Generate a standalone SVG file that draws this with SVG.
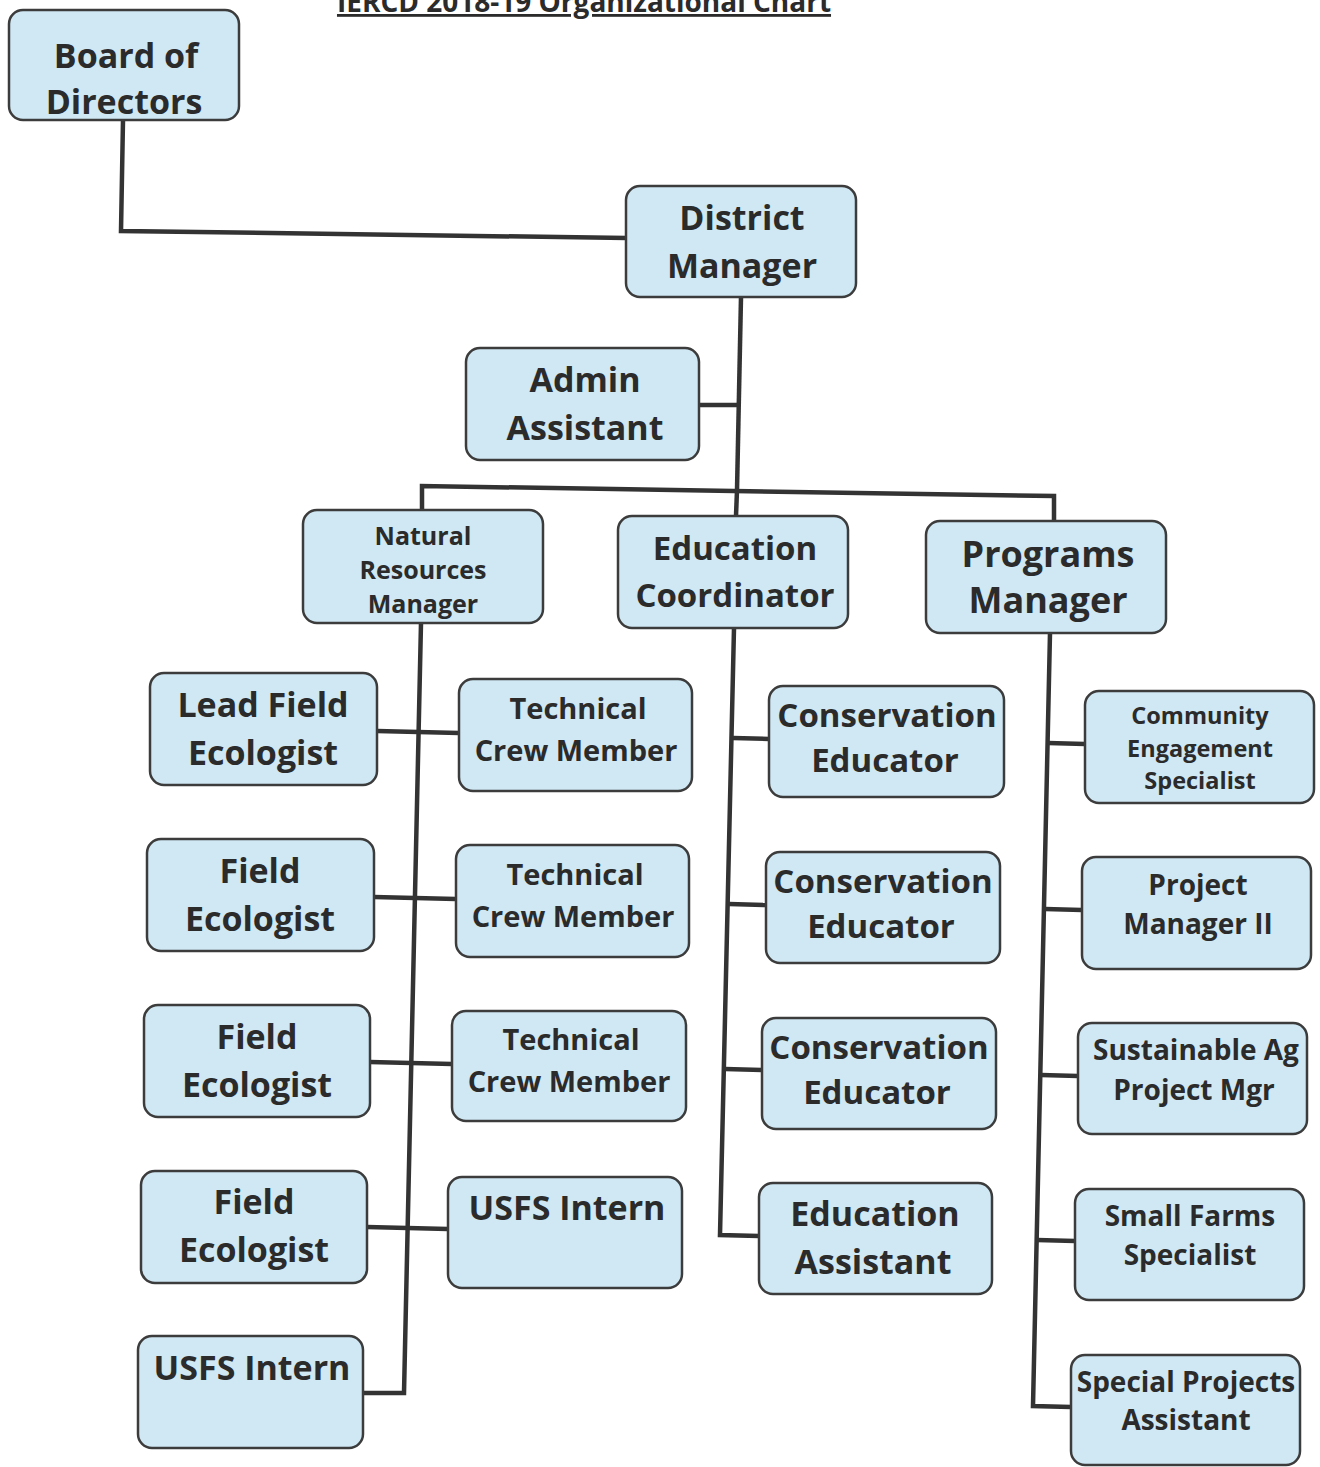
<svg xmlns="http://www.w3.org/2000/svg" width="1320" height="1467" viewBox="0 0 1320 1467">
<style>
.box{fill:#cfe8f4;stroke:#3c3c3c;stroke-width:2.5}
text{font-family:"Open Sans","Liberation Sans",sans-serif;font-weight:700;fill:#2b2b2b;text-anchor:middle}
.l{fill:none;stroke:#333;stroke-width:4.5;stroke-linejoin:miter}
.t{font-size:28px;text-decoration:underline}
.s35{font-size:34px}.s36{font-size:36px}.s33{font-size:33px}.s34{font-size:34px}.s30{font-size:29px}.s28{font-size:28px}.s24{font-size:25px}.s23{font-size:23.5px}
</style>
<rect width="1320" height="1467" fill="#ffffff"/>
<text class="t" x="584" y="12">IERCD 2018-19 Organizational Chart</text>
<g id="connectors">
<polyline class="l" points="123,120 121,231 627,238"/>
<polyline class="l" points="741,297 737,490"/>
<polyline class="l" points="699,405 739,405"/>
<polyline class="l" points="422,510 422,486 1054,496 1054,521"/>
<polyline class="l" points="737,490 736,516"/>
<polyline class="l" points="421,623 404,1393 363,1393"/>
<polyline class="l" points="377,731 459,733"/>
<polyline class="l" points="374,897 456,899"/>
<polyline class="l" points="370,1062 452,1064"/>
<polyline class="l" points="367,1227 448,1229"/>
<polyline class="l" points="734,628 720,1235 759,1236"/>
<polyline class="l" points="733,738 769,739"/>
<polyline class="l" points="729,904 766,905"/>
<polyline class="l" points="725,1069 762,1070"/>
<polyline class="l" points="1050,633 1033,1406 1071,1407"/>
<polyline class="l" points="1048,743 1085,744"/>
<polyline class="l" points="1045,909 1082,910"/>
<polyline class="l" points="1041,1075 1078,1076"/>
<polyline class="l" points="1037,1240 1075,1241"/>
</g>
<g id="board"><rect class="box" x="9" y="10" width="230" height="110" rx="14"/><text class="s35" x="126" y="68">Board of</text><text class="s35" x="124" y="114">Directors</text></g>
<g id="district-manager"><rect class="box" x="626" y="186" width="230" height="111" rx="14"/><text class="s35" x="742" y="230">District</text><text class="s35" x="742" y="278">Manager</text></g>
<g id="admin-assistant"><rect class="box" x="466" y="348" width="233" height="112" rx="14"/><text class="s35" x="585" y="392">Admin</text><text class="s35" x="585" y="440">Assistant</text></g>
<g id="nr-manager"><rect class="box" x="303" y="510" width="240" height="113" rx="14"/><text class="s24" x="423" y="545">Natural</text><text class="s24" x="423" y="579">Resources</text><text class="s24" x="423" y="613">Manager</text></g>
<g id="education-coordinator"><rect class="box" x="618" y="516" width="230" height="112" rx="14"/><text class="s33" x="735" y="560">Education</text><text class="s33" x="735" y="607">Coordinator</text></g>
<g id="programs-manager"><rect class="box" x="926" y="521" width="240" height="112" rx="14"/><text class="s36" x="1048" y="567">Programs</text><text class="s36" x="1048" y="613">Manager</text></g>
<g id="lead-field-ecologist"><rect class="box" x="150" y="673" width="227" height="112" rx="14"/><text class="s34" x="263" y="717">Lead Field</text><text class="s34" x="263" y="765">Ecologist</text></g>
<g id="field-ecologist-1"><rect class="box" x="147" y="839" width="227" height="112" rx="14"/><text class="s34" x="260" y="883">Field</text><text class="s34" x="260" y="931">Ecologist</text></g>
<g id="field-ecologist-2"><rect class="box" x="144" y="1005" width="226" height="112" rx="14"/><text class="s34" x="257" y="1049">Field</text><text class="s34" x="257" y="1097">Ecologist</text></g>
<g id="field-ecologist-3"><rect class="box" x="141" y="1171" width="226" height="112" rx="14"/><text class="s34" x="254" y="1214">Field</text><text class="s34" x="254" y="1262">Ecologist</text></g>
<g id="usfs-intern-1"><rect class="box" x="138" y="1336" width="225" height="112" rx="14"/><text class="s34" x="252" y="1380">USFS Intern</text></g>
<g id="tech-crew-1"><rect class="box" x="459" y="679" width="233" height="112" rx="14"/><text class="s30" x="578" y="719">Technical</text><text class="s30" x="576" y="761">Crew Member</text></g>
<g id="tech-crew-2"><rect class="box" x="456" y="845" width="233" height="112" rx="14"/><text class="s30" x="575" y="885">Technical</text><text class="s30" x="573" y="927">Crew Member</text></g>
<g id="tech-crew-3"><rect class="box" x="452" y="1011" width="234" height="110" rx="14"/><text class="s30" x="571" y="1050">Technical</text><text class="s30" x="569" y="1092">Crew Member</text></g>
<g id="usfs-intern-2"><rect class="box" x="448" y="1177" width="234" height="111" rx="14"/><text class="s34" x="567" y="1220">USFS Intern</text></g>
<g id="conservation-educator-1"><rect class="box" x="769" y="686" width="235" height="111" rx="14"/><text class="s33" x="887" y="727">Conservation</text><text class="s33" x="885" y="772">Educator</text></g>
<g id="conservation-educator-2"><rect class="box" x="766" y="852" width="234" height="111" rx="14"/><text class="s33" x="883" y="893">Conservation</text><text class="s33" x="881" y="938">Educator</text></g>
<g id="conservation-educator-3"><rect class="box" x="762" y="1018" width="234" height="111" rx="14"/><text class="s33" x="879" y="1059">Conservation</text><text class="s33" x="877" y="1104">Educator</text></g>
<g id="education-assistant"><rect class="box" x="759" y="1183" width="233" height="111" rx="14"/><text class="s34" x="875" y="1226">Education</text><text class="s34" x="873" y="1274">Assistant</text></g>
<g id="community-engagement"><rect class="box" x="1085" y="691" width="229" height="112" rx="14"/><text class="s23" x="1200" y="724">Community</text><text class="s23" x="1200" y="757">Engagement</text><text class="s23" x="1200" y="789">Specialist</text></g>
<g id="project-manager-ii"><rect class="box" x="1082" y="857" width="229" height="112" rx="14"/><text class="s28" x="1198" y="895">Project</text><text class="s28" x="1198" y="934">Manager II</text></g>
<g id="sustainable-ag"><rect class="box" x="1078" y="1023" width="229" height="111" rx="14"/><text class="s28" x="1196" y="1060">Sustainable Ag</text><text class="s28" x="1194" y="1100">Project Mgr</text></g>
<g id="small-farms"><rect class="box" x="1075" y="1189" width="229" height="111" rx="14"/><text class="s28" x="1190" y="1226">Small Farms</text><text class="s28" x="1190" y="1265">Specialist</text></g>
<g id="special-projects"><rect class="box" x="1071" y="1355" width="229" height="110" rx="14"/><text class="s28" x="1186" y="1392">Special Projects</text><text class="s28" x="1186" y="1430">Assistant</text></g>
</svg>
